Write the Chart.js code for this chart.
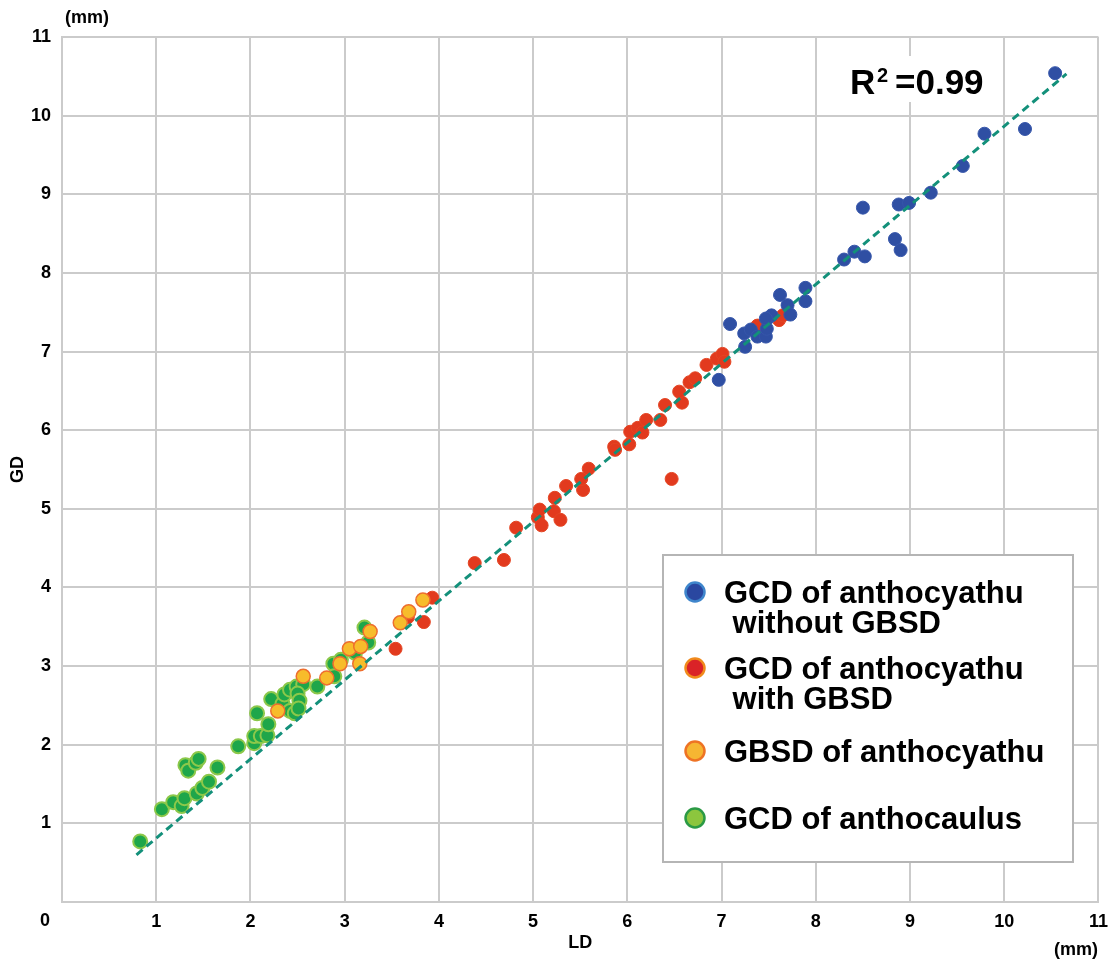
<!DOCTYPE html>
<html>
<head>
<meta charset="utf-8">
<script src="https://cdn.jsdelivr.net/npm/chart.js@4"></script>
<style>
  html, body { margin: 0; padding: 0; background: #fff; }
</style>
</head>
<body>
<canvas id="chart" width="1117" height="961"></canvas>
<script>
// LD (x) and GD (y) in mm
const ldWithout = [6.97, 7.09, 7.25, 7.24, 7.31, 7.38, 7.47, 7.48, 7.49, 7.53, 7.47, 7.62, 7.70, 7.73, 7.89, 7.89,
  8.30, 8.41, 8.52, 8.50, 8.84, 8.90, 8.88, 8.99, 9.22, 9.56, 9.79, 10.22, 10.54];
const gdWithout = [6.64, 7.35, 7.06, 7.23, 7.28, 7.19, 7.19, 7.29, 7.42, 7.46, 7.42, 7.72, 7.59, 7.47, 7.81, 7.64,
  8.17, 8.27, 8.21, 8.83, 8.43, 8.29, 8.87, 8.89, 9.02, 9.36, 9.77, 9.83, 10.54];

const ldWith = [3.54, 3.67, 3.84, 3.93, 4.38, 4.69, 4.82, 5.05, 5.07, 5.09, 5.22, 5.29, 5.23, 5.35, 5.53, 5.51, 5.59,
  5.86, 5.87, 6.02, 6.03, 6.11, 6.16, 6.20, 6.35, 6.40, 6.58, 6.47, 6.55, 6.66, 6.72, 6.84, 6.95, 7.01, 7.03,
  7.38, 7.61, 7.65];
const gdWith = [3.22, 3.62, 3.56, 3.87, 4.31, 4.35, 4.76, 4.89, 4.99, 4.79, 4.97, 4.86, 5.14, 5.29, 5.24, 5.38, 5.51,
  5.79, 5.75, 5.82, 5.98, 6.03, 5.97, 6.13, 6.13, 6.32, 6.35, 5.38, 6.49, 6.61, 6.66, 6.83, 6.91, 6.97, 6.87,
  7.33, 7.40, 7.46];

const ldGbsd = [2.29, 2.56, 2.81, 2.95, 3.05, 3.17, 3.16, 3.27, 3.59, 3.68, 3.83];
const gdGbsd = [2.43, 2.87, 2.85, 3.03, 3.22, 3.25, 3.03, 3.44, 3.55, 3.69, 3.84];

const ldCaulus = [0.83, 1.06, 1.18, 1.27, 1.30, 1.43, 1.49, 1.56, 1.31, 1.34, 1.42, 1.45, 1.65, 1.87, 2.04, 2.04,
  2.11, 2.18, 2.19, 2.07, 2.22, 2.34, 2.36, 2.42, 2.49, 2.56, 2.50, 2.52, 2.42, 2.47, 2.51, 2.71, 2.88, 2.89,
  2.96, 3.11, 3.25, 3.21];
const gdCaulus = [0.77, 1.18, 1.27, 1.22, 1.32, 1.38, 1.45, 1.53, 1.74, 1.67, 1.77, 1.82, 1.71, 1.98, 2.02, 2.11,
  2.11, 2.12, 2.26, 2.40, 2.58, 2.52, 2.64, 2.70, 2.74, 2.77, 2.65, 2.56, 2.43, 2.40, 2.46, 2.74, 3.03, 2.87,
  3.08, 3.17, 3.30, 3.49];

// regression line end points
const ldFit = [0.79, 10.66];
const gdFit = [0.60, 10.53];

const tickValues = [0, 1, 2, 3, 4, 5, 6, 7, 8, 9, 10, 11];

const toPoints = (xs, ys) => xs.map((x, i) => ({ x: x, y: ys[i] }));

const FONT = "'Liberation Sans', Arial, Helvetica, sans-serif";

// legend entries: text lines + marker colours (legend markers differ a bit from plot dots)
const legendItems = [
  { lines: ["GCD of anthocyathu", " without GBSD"], fill: "#2a47a0", stroke: "#3f86cc" },
  { lines: ["GCD of anthocyathu", " with GBSD"], fill: "#da2327", stroke: "#f08a1c" },
  { lines: ["GBSD of anthocyathu"], fill: "#f6b632", stroke: "#ee7324" },
  { lines: ["GCD of anthocaulus"], fill: "#8cc63e", stroke: "#2b9a45" },
];

const extras = {
  id: "extras",
  afterDraw(chart) {
    const ctx = chart.ctx;
    ctx.save();
    ctx.fillStyle = "#000";

    // shared "0" and unit labels
    ctx.font = "bold 18px " + FONT;
    ctx.textAlign = "center";
    ctx.textBaseline = "middle";
    ctx.fillText("0", 45, 921);
    ctx.fillText("(mm)", 87, 18);
    ctx.fillText("(mm)", 1076, 950);

    // R^2 label
    ctx.fillStyle = "#fff";
    ctx.fillRect(843, 56, 150, 46);
    ctx.fillStyle = "#000";
    ctx.textAlign = "left";
    ctx.textBaseline = "alphabetic";
    ctx.font = "bold 35px " + FONT;
    ctx.fillText("R", 850, 94);
    ctx.font = "bold 20px " + FONT;
    ctx.fillText("2", 877, 82);
    ctx.font = "bold 35px " + FONT;
    ctx.fillText("=0.99", 895, 94);

    // legend box
    const bx = 663, by = 555, bw = 410, bh = 307;
    ctx.fillStyle = "#fff";
    ctx.fillRect(bx, by, bw, bh);
    ctx.strokeStyle = "#b5b5b5";
    ctx.lineWidth = 2;
    ctx.strokeRect(bx, by, bw, bh);

    const markerY = [592, 668, 751, 818];
    ctx.font = "bold 31px " + FONT;
    legendItems.forEach((item, i) => {
      ctx.beginPath();
      ctx.arc(695, markerY[i], 9.5, 0, Math.PI * 2);
      ctx.fillStyle = item.fill;
      ctx.fill();
      ctx.lineWidth = 2.5;
      ctx.strokeStyle = item.stroke;
      ctx.stroke();
      ctx.fillStyle = "#000";
      item.lines.forEach((line, j) => {
        ctx.fillText(line, 724, markerY[i] + 11 + j * 30);
      });
    });
    ctx.restore();
  },
};

const gridColor = "#cbcbcb";

new Chart(document.getElementById("chart"), {
  type: "scatter",
  data: {
    datasets: [
      {
        label: "fit",
        data: toPoints(ldFit, gdFit),
        showLine: true,
        borderColor: "#13907a",
        borderWidth: 3,
        borderDash: [8, 5],
        pointRadius: 0,
        order: 0,
      },
      {
        label: "GBSD of anthocyathu",
        data: toPoints(ldGbsd, gdGbsd),
        backgroundColor: "#f7bc2b",
        borderColor: "#ee6e2e",
        borderWidth: 1.5,
        pointRadius: 7,
        order: 1,
      },
      {
        label: "GCD of anthocyathu without GBSD",
        data: toPoints(ldWithout, gdWithout),
        backgroundColor: "#2f4fa3",
        borderColor: "#3656aa",
        borderWidth: 1,
        pointRadius: 6.5,
        order: 2,
      },
      {
        label: "GCD of anthocyathu with GBSD",
        data: toPoints(ldWith, gdWith),
        backgroundColor: "#e23a1e",
        borderColor: "#e44523",
        borderWidth: 1,
        pointRadius: 6.5,
        order: 3,
      },
      {
        label: "GCD of anthocaulus",
        data: toPoints(ldCaulus, gdCaulus),
        backgroundColor: "#1ea64a",
        borderColor: "#8cc84a",
        borderWidth: 2,
        pointRadius: 7,
        order: 4,
      },
    ],
  },
  options: {
    responsive: false,
    animation: false,
    layout: { padding: { left: 0, right: 17, top: 37, bottom: 0 } },
    plugins: {
      legend: { display: false },
      tooltip: { enabled: false },
    },
    scales: {
      x: {
        type: "linear",
        min: 0,
        max: 11,
        afterBuildTicks: (scale) => {
          scale.ticks = tickValues.map((v) => ({ value: v }));
        },
        afterFit: (scale) => {
          scale.height = 59;
        },
        ticks: {
          callback: (v) => (v === 0 ? "" : v),
          color: "#000",
          font: { family: FONT, size: 18, weight: "bold" },
          padding: 9,
          maxRotation: 0,
        },
        grid: { color: gridColor, lineWidth: 2, drawTicks: false },
        border: { color: gridColor, width: 2 },
        title: {
          display: true,
          text: "LD",
          color: "#000",
          font: { family: FONT, size: 18, weight: "bold" },
          padding: { top: 0, bottom: 7 },
        },
      },
      y: {
        type: "linear",
        min: 0,
        max: 11,
        afterBuildTicks: (scale) => {
          scale.ticks = tickValues.map((v) => ({ value: v }));
        },
        afterFit: (scale) => {
          scale.width = 62;
        },
        ticks: {
          callback: (v) => (v === 0 ? "" : v),
          color: "#000",
          font: { family: FONT, size: 18, weight: "bold" },
          padding: 11,
        },
        grid: { color: gridColor, lineWidth: 2, drawTicks: false },
        border: { color: gridColor, width: 2 },
        title: {
          display: true,
          text: "GD",
          color: "#000",
          font: { family: FONT, size: 18, weight: "bold" },
          padding: { top: 7, bottom: 0 },
        },
      },
    },
  },
  plugins: [extras],
});
</script>
</body>
</html>
